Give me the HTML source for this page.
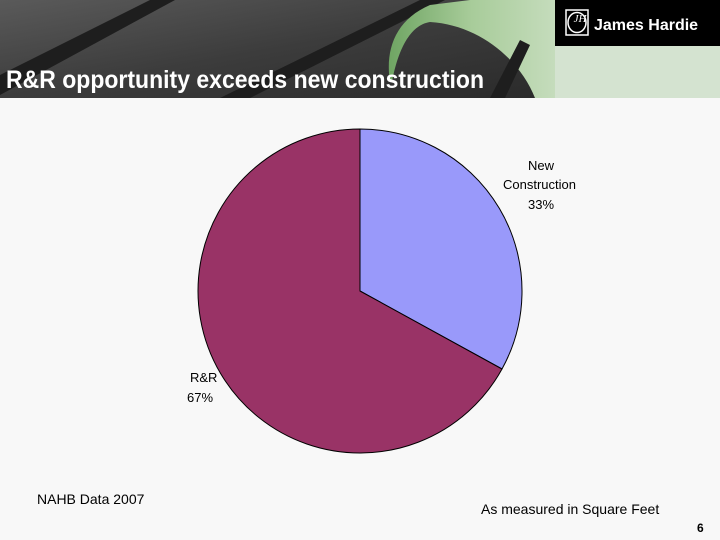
<!DOCTYPE html>
<html><head><style>
body{margin:0;width:720px;height:540px;background:#f8f8f8;position:relative;overflow:hidden;font-family:"Liberation Sans",Arial,sans-serif}
.t{position:absolute;white-space:nowrap}
</style></head><body>
<svg width="720" height="540" style="position:absolute;left:0;top:0">
<defs>
<linearGradient id="bg" x1="0" y1="0" x2="1" y2="1">
<stop offset="0" stop-color="#5a5a5a"/><stop offset="0.5" stop-color="#3c3c3c"/><stop offset="1" stop-color="#2a2a2a"/>
</linearGradient>
<linearGradient id="leaf" x1="0" y1="0" x2="1" y2="0">
<stop offset="0" stop-color="#6fa563"/><stop offset="0.5" stop-color="#a8cc9a"/><stop offset="1" stop-color="#c5dcbc"/>
</linearGradient>
</defs>
<rect x="0" y="0" width="555" height="98" fill="url(#bg)"/>
<polygon points="0,75 150,0 175,0 0,95" fill="#1e1e1e"/>
<polygon points="220,98 420,0 445,0 250,98" fill="#1e1e1e"/>
<path d="M390,82 C385,50 395,20 430,5 L470,0 L555,0 L555,98 L535,98 C520,60 480,25 430,22 C410,25 398,50 392,82 Z" fill="url(#leaf)"/>
<polygon points="490,98 520,40 530,45 505,98" fill="#1e1e1e"/>
<rect x="555" y="0" width="165" height="46" fill="#000"/>
<rect x="555" y="46" width="165" height="52" fill="#d4e3d0"/>
<rect x="566" y="10" width="22" height="25" fill="#000" stroke="#fff" stroke-width="1.5"/>
<ellipse cx="577" cy="22.5" rx="9" ry="10" fill="none" stroke="#fff" stroke-width="1.5"/>
<text x="580" y="22" fill="#fff" font-size="11" font-family="Liberation Serif" font-style="italic" text-anchor="middle">JH</text>
<text x="594" y="30" fill="#fff" font-size="16" font-weight="bold" font-family="Liberation Sans">James Hardie</text>
<text x="6" y="88" fill="#fff" font-size="25" font-weight="bold" font-family="Liberation Sans" textLength="478" lengthAdjust="spacingAndGlyphs">R&amp;R opportunity exceeds new construction</text>
<path d="M360,291 L360,129 A162,162 0 0,1 502,369 Z" fill="#9999fa" stroke="#000" stroke-width="1"/>
<path d="M360,291 L502,369 A162,162 0 1,1 360,129 Z" fill="#993366" stroke="#000" stroke-width="1"/>
</svg>
<div class="t" style="left:528px;top:158px;font-size:13px">New</div>
<div class="t" style="left:503px;top:177px;font-size:13px">Construction</div>
<div class="t" style="left:528px;top:197px;font-size:13px">33%</div>
<div class="t" style="left:190px;top:370px;font-size:13px">R&amp;R</div>
<div class="t" style="left:187px;top:390px;font-size:13px">67%</div>
<div class="t" style="left:37px;top:491px;font-size:14px">NAHB Data 2007</div>
<div class="t" style="left:481px;top:501px;font-size:14px">As measured in Square Feet</div>
<div class="t" style="left:697px;top:521px;font-size:12px;font-weight:bold">6</div>
</body></html>
